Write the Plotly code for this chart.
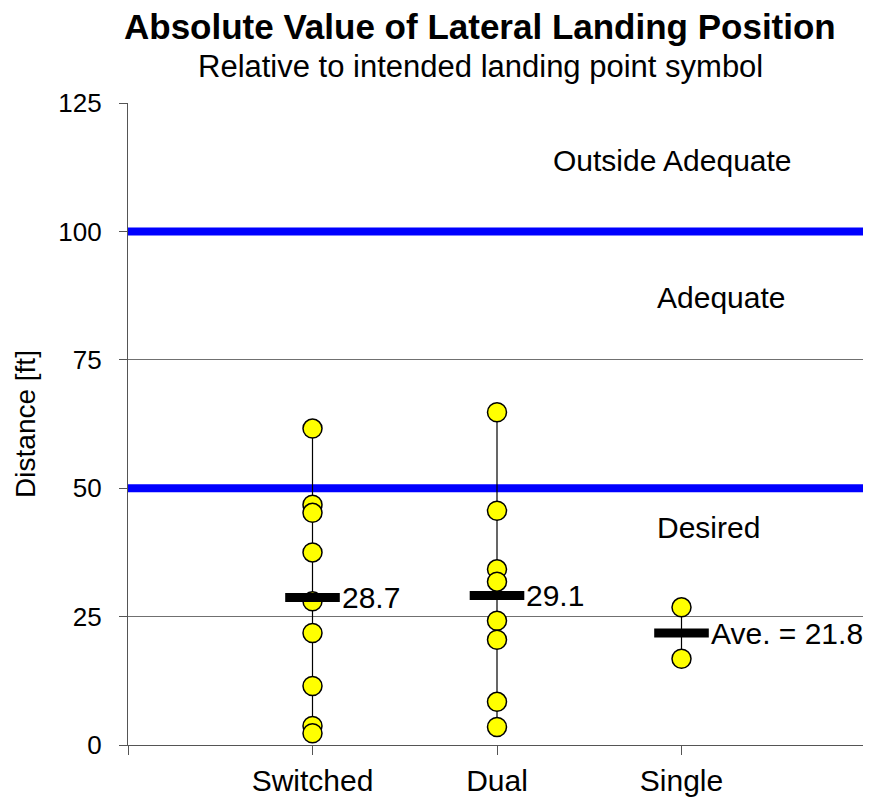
import plotly.graph_objects as go

# ---- data ----
categories = ["Switched", "Dual", "Single"]
cat_x = [1, 2, 3]
switched_vals = [61.6, 46.8, 45.2, 37.5, 28.0, 21.8, 11.5, 3.7, 2.3]
dual_vals = [64.8, 45.6, 34.2, 31.8, 24.2, 20.5, 8.4, 3.5]
single_vals = [26.8, 16.8]
averages = [28.7, 29.1, 21.8]
avg_labels = ["28.7", "29.1", "Ave. = 21.8"]
limit_lines = [50, 100]
region_labels = ["Outside Adequate", "Adequate", "Desired"]
region_y = [113.9, 87.2, 42.3]
region_x = [2.293, 2.856, 2.856]
y_ticks = [0, 25, 50, 75, 100, 125]
x_tickvals = [0, 1, 2, 3, 4]
x_ticktext = ["", "Switched", "Dual", "Single", ""]

FONT = "Liberation Sans, Arial, sans-serif"
series = [switched_vals, dual_vals, single_vals]

fig = go.Figure()

# limit lines (blue)
for lv in limit_lines:
    fig.add_trace(go.Scatter(x=[0, 4], y=[lv, lv], mode="lines",
                             line=dict(color="#0000FF", width=8),
                             hoverinfo="skip", showlegend=False, cliponaxis=False))

# range lines
for xv, vals in zip(cat_x, series):
    fig.add_trace(go.Scatter(x=[xv, xv], y=[min(vals), max(vals)], mode="lines",
                             line=dict(color="black", width=1.2),
                             showlegend=False, hoverinfo="skip"))

# points
for xv, vals in zip(cat_x, series):
    fig.add_trace(go.Scatter(x=[xv] * len(vals), y=vals, mode="markers",
                             marker=dict(symbol="circle", size=19, color="#FFFF00",
                                         line=dict(color="black", width=1.5)),
                             showlegend=False, cliponaxis=False))

# averages
fig.add_trace(go.Scatter(x=cat_x, y=averages, mode="markers",
                         marker=dict(symbol="line-ew", size=39,
                                     line=dict(color="black", width=9)),
                         showlegend=False))

annotations = []
for xv, av, lab in zip(cat_x, averages, avg_labels):
    annotations.append(dict(x=xv, y=av, xref="x", yref="y", text=lab,
                            showarrow=False, xanchor="left", yanchor="middle",
                            xshift=27, font=dict(family=FONT, size=30, color="black")))
for txt, xv, yv in zip(region_labels, region_x, region_y):
    annotations.append(dict(x=xv, y=yv, xref="x", yref="y", text=txt,
                            showarrow=False, xanchor="left", yanchor="middle",
                            font=dict(family=FONT, size=30, color="black")))

# title & subtitle
annotations.append(dict(x=0.477, y=(737 - 18) / 642, xref="paper", yref="paper",
                        text="<b>Absolute Value of Lateral Landing Position</b>",
                        showarrow=False, xanchor="center", yanchor="middle",
                        font=dict(family=FONT, size=35, color="black")))
annotations.append(dict(x=0.477, y=(737 - 59) / 642, xref="paper", yref="paper",
                        text="Relative to intended landing point symbol",
                        showarrow=False, xanchor="center", yanchor="middle",
                        font=dict(family=FONT, size=31, color="black")))

fig.update_layout(
    width=863, height=793,
    margin=dict(l=120, r=5, t=95, b=56),
    paper_bgcolor="white", plot_bgcolor="white",
    annotations=annotations,
    font=dict(family=FONT, color="black"),
    xaxis=dict(range=[0, 4], tickvals=x_tickvals, ticktext=x_ticktext,
               showgrid=False, zeroline=False, showline=True, linecolor="#555555",
               linewidth=1.2, ticks="outside", ticklen=9, tickcolor="#555555",
               tickfont=dict(family=FONT, size=30, color="black")),
    yaxis=dict(range=[0, 125], tickvals=y_ticks, showgrid=True, gridcolor="#707070",
               gridwidth=1, zeroline=False, showline=True, linecolor="#555555",
               linewidth=1.2, ticks="outside", ticklen=8, tickcolor="#555555",
               ticklabelstandoff=12,
               tickfont=dict(family=FONT, size=26, color="black"),
               title=dict(text="Distance [ft]", font=dict(family=FONT, size=28, color="black"),
                          standoff=14)),
)

fig.write_html("out.html")
